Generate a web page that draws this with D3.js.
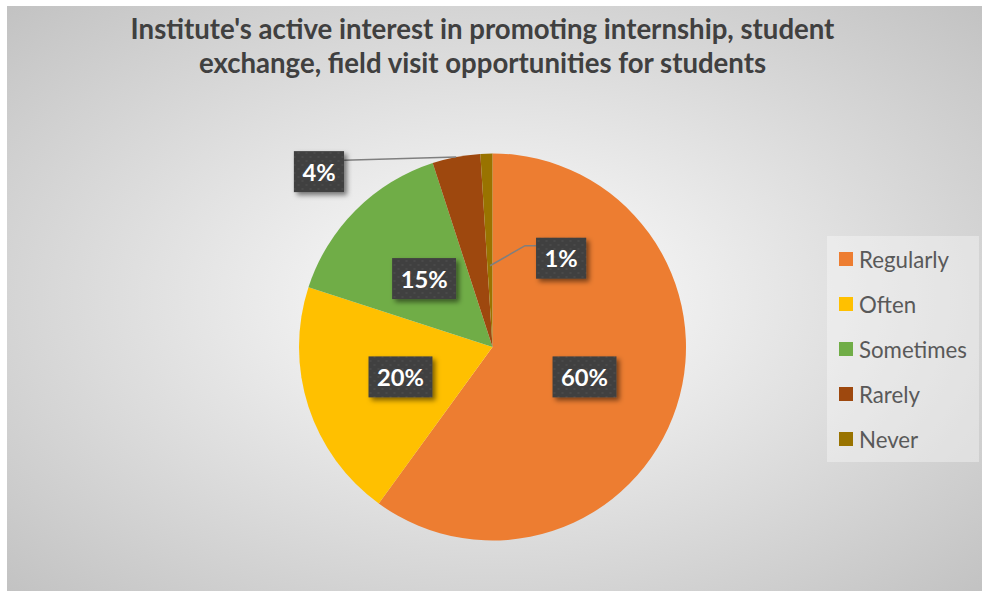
<!DOCTYPE html>
<html>
<head>
<meta charset="utf-8">
<script src="https://cdn.jsdelivr.net/npm/d3@7"></script>
<style>
  html, body { margin: 0; padding: 0; background: #fff; }
  svg { display: block; }
</style>
</head>
<body>
<svg id="chart" width="982" height="591"></svg>
<script>
// ---- data ----
const categories = ["Regularly", "Often", "Sometimes", "Rarely", "Never"];
const values = [60, 20, 15, 4, 1];
const labels = ["60%", "20%", "15%", "4%", "1%"];
const colors = ["#ED7D31", "#FFC000", "#70AD47", "#9E480E", "#997300"];
const titleLines = ["Institute's active interest in promoting internship, student",
                    "exchange, field visit opportunities for students"];

// ---- layout ----
const W = 982, H = 591;
const cx = 492.5, cy = 347, R = 193.5;
const FONT = "Lato, 'Open Sans', 'Noto Sans', sans-serif";
const svg = d3.select("#chart");
const defs = svg.append("defs");

const bg = defs.append("radialGradient").attr("id", "bg")
  .attr("cx", "50%").attr("cy", "50%").attr("r", "71%");
bg.append("stop").attr("offset", "0%").attr("stop-color", "#ffffff");
bg.append("stop").attr("offset", "100%").attr("stop-color", "#c2c2c2");

const pat = defs.append("pattern").attr("id", "dots").attr("patternUnits", "userSpaceOnUse")
  .attr("width", 8).attr("height", 8);
pat.append("rect").attr("width", 8).attr("height", 8).attr("fill", "#404040");
pat.append("circle").attr("cx", 2).attr("cy", 2).attr("r", 0.8).attr("fill", "#565656");
pat.append("circle").attr("cx", 6).attr("cy", 6).attr("r", 0.8).attr("fill", "#565656");

const sh = defs.append("filter").attr("id", "shadow")
  .attr("x", "-30%").attr("y", "-30%").attr("width", "160%").attr("height", "160%");
sh.append("feDropShadow").attr("dx", 3).attr("dy", 3).attr("stdDeviation", 2.5)
  .attr("flood-color", "#000").attr("flood-opacity", 0.5);

// chart area
svg.append("rect").attr("x", 7).attr("y", 6).attr("width", W - 7).attr("height", H - 6)
  .attr("fill", "url(#bg)");

function fitFont(sel, text, target, base) {
  sel.attr("font-size", base).text(text);
  const w = sel.node().getComputedTextLength();
  const fs = base * target / w;
  sel.attr("font-size", fs);
  return fs;
}

// title
const t1 = svg.append("text").attr("x", 482.5).attr("y", 39.3).attr("text-anchor", "middle")
  .attr("font-family", FONT).attr("font-weight", "bold").attr("fill", "#404040");
const tfs = fitFont(t1, titleLines[0], 704, 28);
svg.append("text").attr("x", 482.5).attr("y", 73.3).attr("text-anchor", "middle")
  .attr("font-family", FONT).attr("font-weight", "bold").attr("fill", "#404040")
  .attr("font-size", tfs).text(titleLines[1]);

// pie
const pie = d3.pie().sort(null).value(d => d.v)(values.map((v, i) => ({ v, i })));
const arc = d3.arc().innerRadius(0).outerRadius(R);
const g = svg.append("g").attr("transform", `translate(${cx},${cy})`);
g.selectAll("path").data(pie).join("path")
  .attr("d", arc).attr("fill", d => colors[d.data.i]);

// label placement (polar, relative to pie centre)
const polar = (ang, r) => [Math.sin(ang) * r, -Math.cos(ang) * r];
const mid = d => (d.startAngle + d.endAngle) / 2;
const moved = {
  "Rarely": { ang: 315.3 * Math.PI / 180, rf: 1.275 },
  "Never": { ang: 37.7 * Math.PI / 180, rf: 0.58 }
};

const labelG = g.append("g");
const boxH = 41, padX = 8.5;

// measure label font
const probe = labelG.append("text").attr("font-family", FONT).attr("font-weight", "bold");
const lfs = fitFont(probe, "60%", 47, 24);
probe.remove();

pie.forEach(d => {
  const cat = categories[d.data.i];
  const m = moved[cat];
  const [lx, ly] = m ? polar(m.ang, m.rf * R) : polar(mid(d), 0.5 * R);
  const txt = labelG.append("text").attr("font-family", FONT).attr("font-weight", "bold")
    .attr("font-size", lfs).attr("fill", "#fff").text(labels[d.data.i]);
  const tw = txt.node().getComputedTextLength();
  const bw = tw + 2 * padX;
  // leader lines
  if (cat === "Rarely") {
    const [ex, ey] = polar(mid(d), R);
    labelG.insert("polyline", "text")
      .attr("points", `${lx + bw / 2},${ly - boxH / 2 + 9} ${ex},${ey}`)
      .attr("fill", "none").attr("stroke", "#7f7f7f").attr("stroke-width", 1.5);
  } else if (cat === "Never") {
    const [ex, ey] = polar(mid(d), 0.42 * R);
    const sx = lx - bw / 2, sy = ly - boxH / 2 + 8;
    labelG.insert("polyline", "text")
      .attr("points", `${sx},${sy} ${sx - 11},${sy} ${ex},${ey}`)
      .attr("fill", "none").attr("stroke", "#7f7f7f").attr("stroke-width", 1.5);
  }
  labelG.insert("rect", "text:last-child")
    .attr("x", lx - bw / 2).attr("y", ly - boxH / 2).attr("width", bw).attr("height", boxH)
    .attr("fill", "url(#dots)").attr("filter", "url(#shadow)");
  txt.attr("x", lx).attr("y", ly).attr("text-anchor", "middle").attr("dominant-baseline", "central");
  txt.raise();
});

// legend
const lg = svg.append("g");
lg.append("rect").attr("x", 827).attr("y", 236).attr("width", 152).attr("height", 226)
  .attr("fill", "#fff").attr("fill-opacity", 0.35);
const items = lg.selectAll("g.item").data(categories).join("g").attr("class", "item")
  .attr("transform", (d, i) => `translate(839, ${259 + i * 45})`);
items.append("rect").attr("x", 0).attr("y", -7).attr("width", 14).attr("height", 14)
  .attr("fill", (d, i) => colors[i]);
const lt = items.append("text").attr("x", 20).attr("y", 0).attr("dominant-baseline", "central")
  .attr("font-family", FONT).attr("fill", "#595959").text(d => d);
const probe2 = lg.append("text").attr("font-family", FONT);
const legfs = fitFont(probe2, "Sometimes", 108, 20);
probe2.remove();
lt.attr("font-size", legfs);
</script>
</body>
</html>
